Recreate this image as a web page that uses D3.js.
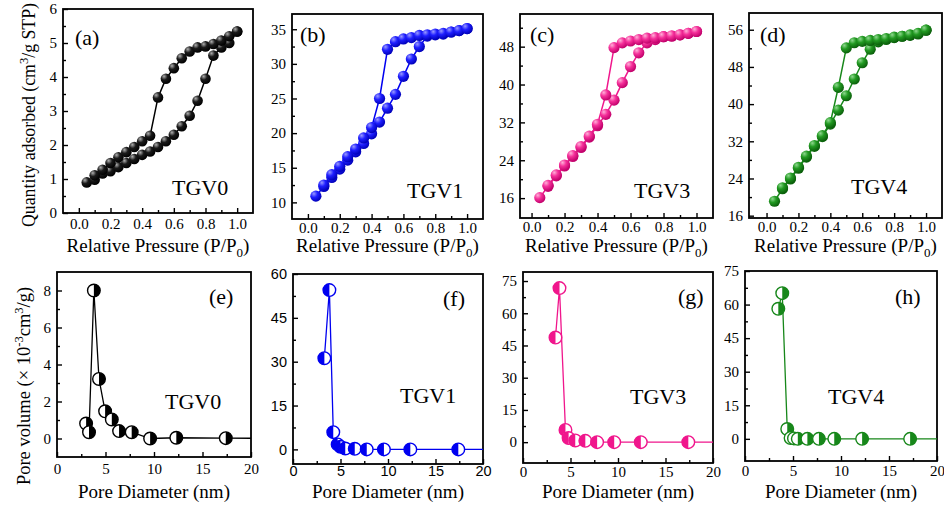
<!DOCTYPE html>
<html><head><meta charset="utf-8">
<script src="https://cdn.jsdelivr.net/npm/d3@7"></script>
<style>
body{margin:0;background:#fff}
svg{display:block}
text{font-family:"Liberation Serif","Times New Roman",serif;fill:#000}
</style>
</head><body>
<svg id="fig" width="944" height="508"></svg>
<script>
// ---- Isotherm data (relative pressure P/P0) ----
const pAds = [0.05,0.10,0.15,0.20,0.25,0.30,0.35,0.40,0.45,0.50,0.55,0.60,0.65,0.70,0.75,0.80,0.85,0.90,0.95,1.00];
const pDes = [0.10,0.15,0.20,0.25,0.30,0.35,0.40,0.45,0.50,0.55,0.60,0.65,0.70,0.75,0.80,0.85,0.90,0.95,1.00];

const tgv0Ads = [0.90,0.98,1.16,1.23,1.35,1.47,1.59,1.71,1.81,1.94,2.11,2.30,2.55,2.86,3.30,3.95,4.63,4.87,5.00,5.34];
const tgv0Des = [1.11,1.27,1.47,1.64,1.79,1.94,2.11,2.27,3.40,3.95,4.26,4.55,4.75,4.87,4.90,4.97,5.07,5.20,5.34];

const tgv1Ads = [10.9,12.3,13.6,14.8,16.1,17.3,18.5,19.9,21.6,23.6,25.6,28.2,30.7,32.5,34.0,34.2,34.3,34.6,34.8,35.1];
const tgv1Des = [12.5,14.0,15.2,16.6,17.7,19.3,20.8,25.0,32.1,33.2,33.6,33.8,34.1,34.2,34.3,34.4,34.6,34.8,35.1];

const tgv3Ads = [16.1,18.5,20.7,22.8,24.8,26.7,28.9,31.3,33.7,36.7,40.4,43.8,46.7,48.8,49.5,50.1,50.2,50.5,50.8,51.2];
const tgv3Des = [18.7,20.9,23.0,25.0,26.9,29.1,31.6,37.8,47.8,48.8,49.2,49.5,49.8,49.9,50.1,50.3,50.5,50.8,51.2];

const tgv4Ads = [19.1,21.8,23.9,26.2,28.6,30.9,33.0,35.7,38.7,41.8,45.4,48.9,51.8,53.4,53.9,54.3,54.6,54.8,55.1,55.9];
const tgv4Des = [22.0,24.1,26.4,28.8,31.1,33.2,36.0,43.6,52.1,53.2,53.5,53.7,53.9,54.1,54.4,54.6,54.9,55.2,55.9];

// ---- Pore size distribution data (diameter nm, volume) ----
const tgv0D = [3.0,3.3,3.8,4.33,4.96,5.65,6.4,7.7,9.6,12.3,17.4,25];
const tgv0V = [0.81,0.34,8.0,3.22,1.47,1.03,0.40,0.34,0.0,0.04,0.02,0.0];
const tgv1D = [3.3,3.83,4.24,4.7,5.0,5.5,6.5,7.76,9.57,12.35,17.4,25];
const tgv1V = [31.2,54.5,5.9,1.7,0.9,0.3,0.2,0,0,0,0,0];
const tgv3D = [3.42,3.84,4.47,4.8,5.5,6.56,7.8,9.6,12.4,17.4,25];
const tgv3V = [48.7,71.7,5.7,1.9,0.8,0.6,0,0,0,0,0];
const tgv4D = [3.47,3.88,4.4,4.75,5.1,5.5,6.5,7.7,9.3,12.2,17.2,25];
const tgv4V = [58.1,65.1,4.4,0.4,0.2,0,0,0,0,0,0,0];

// ---- Tick values ----
const pTicks = [0.0,0.2,0.4,0.6,0.8,1.0];
const pMinor = [0.1,0.3,0.5,0.7,0.9];
const dTicks = [0,5,10,15,20];
const dMinor = [2.5,7.5,12.5,17.5];

const svg = d3.select("#fig");
const defs = svg.append("defs");

const colors = {black:"#000000", blue:"#0000f0", pink:"#f0168c", green:"#17871a"};
const sphereStops = {
  black:["#b0b0b0","#1a1a1a","#000000"],
  blue:["#9a9aff","#1f1fff","#0000b8"],
  pink:["#ffb0d8","#f5309a","#c0006a"],
  green:["#8fd88f","#229a22","#0a5e0a"]
};
Object.entries(sphereStops).forEach(([k,s])=>{
  const g = defs.append("radialGradient").attr("id","sph-"+k)
    .attr("cx","35%").attr("cy","32%").attr("r","70%").attr("fx","32%").attr("fy","28%");
  g.append("stop").attr("offset","0%").attr("stop-color",s[0]);
  g.append("stop").attr("offset","45%").attr("stop-color",s[1]);
  g.append("stop").attr("offset","100%").attr("stop-color",s[2]);
});

function frameAxes(g, x, y, cfg){
  const [x0,y0,x1,y1] = cfg.frame;
  const tf = cfg.tickFont || '"Liberation Serif",serif';
  const fs = cfg.tickSize || 15;
  const bx = g.append("g").attr("transform",`translate(0,${y1})`)
    .call(d3.axisBottom(x).tickValues(cfg.xTicks).tickSize(-5).tickPadding(cfg.xPad||5).tickFormat(cfg.xFmt));
  const bxm = g.append("g").attr("transform",`translate(0,${y1})`)
    .call(d3.axisBottom(x).tickValues(cfg.xMinor).tickSize(-3).tickFormat(""));
  const ly = g.append("g").attr("transform",`translate(${x0},0)`)
    .call(d3.axisLeft(y).tickValues(cfg.yTicks).tickSize(-5).tickPadding(6).tickFormat(cfg.yFmt||d3.format("d")));
  const lym = g.append("g").attr("transform",`translate(${x0},0)`)
    .call(d3.axisLeft(y).tickValues(cfg.yMinor).tickSize(-3).tickFormat(""));
  [bx,bxm,ly,lym].forEach(a=>{
    a.select(".domain").remove();
    a.selectAll("line").attr("stroke","#000").attr("stroke-width",1.4);
    a.selectAll("text").style("font-family",tf).style("font-size",fs+"px").attr("fill","#000");
  });
  g.append("rect").attr("x",x0).attr("y",y0).attr("width",x1-x0).attr("height",y1-y0)
    .attr("fill","none").attr("stroke","#000").attr("stroke-width",1.8);
}

function texts(g, cfg){
  g.append("text").attr("x",cfg.tag[0]).attr("y",cfg.tag[1]).style("font-size","22px").text(cfg.tagText);
  g.append("text").attr("x",cfg.name[0]).attr("y",cfg.name[1]).style("font-size","22px").text(cfg.nameText);
}

let clipN = 0;
function clipFor(cfg){
  const [x0,y0,x1,y1] = cfg.frame;
  const id = "clip"+(clipN++);
  defs.append("clipPath").attr("id",id).append("rect")
    .attr("x",x0).attr("y",y0).attr("width",x1-x0).attr("height",y1-y0);
  return id;
}

// ---- Isotherm panels ----
function isotherm(cfg){
  const [x0,y0,x1,y1] = cfg.frame;
  const x = d3.scaleLinear().domain(cfg.xDom).range([x0,x1]);
  const y = d3.scaleLinear().domain(cfg.yDom).range([y1,y0]);
  const g = svg.append("g");
  frameAxes(g,x,y,cfg);
  const col = colors[cfg.color];
  const line = d3.line().x(d=>x(d[0])).y(d=>y(d[1]));
  const ads = pAds.map((p,i)=>[p,cfg.ads[i]]);
  const des = pDes.map((p,i)=>[p,cfg.des[i]]);
  const cg = g.append("g").attr("clip-path",`url(#${clipFor(cfg)})`);
  [ads,des].forEach(s=>cg.append("path").attr("d",line(s)).attr("fill","none")
    .attr("stroke",col).attr("stroke-width",1.5));
  [ads,des].forEach(s=>cg.selectAll(null).data(s).enter().append("circle")
    .attr("cx",d=>x(d[0])).attr("cy",d=>y(d[1])).attr("r",cfg.r||5.3)
    .attr("fill",`url(#sph-${cfg.color})`));
  texts(g,cfg);
  g.append("text").attr("x",(x0+x1)/2).attr("y",252).attr("text-anchor","middle")
    .style("font-size","19px")
    .call(t=>{
      t.append("tspan").text("Relative Pressure (P/P");
      t.append("tspan").attr("dy",5).style("font-size","13px").text("0");
      t.append("tspan").attr("dy",-5).text(")");
    });
}

// ---- Pore distribution panels ----
function halfDisk(r, side){
  // filled half of a circle, left or right
  return side==="left"
    ? `M0,${-r}A${r},${r} 0 0 0 0,${r}Z`
    : `M0,${-r}A${r},${r} 0 0 1 0,${r}Z`;
}
function pore(cfg){
  const [x0,y0,x1,y1] = cfg.frame;
  const x = d3.scaleLinear().domain([0,20]).range([x0,x1]);
  const y = d3.scaleLinear().domain(cfg.yDom).range([y1,y0]);
  const g = svg.append("g");
  frameAxes(g,x,y,cfg);
  const col = colors[cfg.color];
  const pts = cfg.d.map((d,i)=>[d,cfg.v[i]]);
  const cg = g.append("g").attr("clip-path",`url(#${clipFor(cfg)})`);
  cg.append("path").attr("d",d3.line().x(d=>x(d[0])).y(d=>y(d[1]))(pts))
    .attr("fill","none").attr("stroke",col).attr("stroke-width",1.3);
  const r = 6.3;
  const m = cg.selectAll(null).data(pts).enter().append("g")
    .attr("transform",d=>`translate(${x(d[0])},${y(d[1])})`);
  m.append("circle").attr("r",r).attr("fill","#fff").attr("stroke",col).attr("stroke-width",1.4);
  m.append("path").attr("d",halfDisk(r,cfg.side)).attr("fill",col);
  texts(g,cfg);
  g.append("text").attr("x",(x0+x1)/2).attr("y",498).attr("text-anchor","middle")
    .style("font-size","19px").text("Pore Diameter (nm)");
}

const fmtP = d3.format(".1f");

isotherm({frame:[63,9,253,213], xDom:[-0.1,1.1], yDom:[0,6], ads:tgv0Ads, des:tgv0Des, color:"black",
  xTicks:pTicks, xMinor:pMinor, xFmt:fmtP, yTicks:[0,1,2,3,4,5,6], yMinor:[0.5,1.5,2.5,3.5,4.5,5.5],
  tag:[75,45], tagText:"(a)", name:[172,195], nameText:"TGV0"});
isotherm({frame:[292,14,483,219], xDom:[-0.1,1.1], yDom:[7.6,37.2], ads:tgv1Ads, des:tgv1Des, color:"blue", r:5.6,
  xTicks:pTicks, xMinor:pMinor, xFmt:fmtP, xPad:3, yTicks:[10,15,20,25,30,35], yMinor:[12.5,17.5,22.5,27.5,32.5],
  tag:[300,42], tagText:"(b)", name:[407,198], nameText:"TGV1"});
isotherm({frame:[520,14,713,218], xDom:[-0.07,1.1], yDom:[11.8,54.9], ads:tgv3Ads, des:tgv3Des, color:"pink", r:5.6,
  xTicks:pTicks, xMinor:pMinor, xFmt:fmtP, xPad:3, yTicks:[16,24,32,40,48], yMinor:[20,28,36,44,52],
  tag:[530,42], tagText:"(c)", name:[634,198], nameText:"TGV3"});
isotherm({frame:[749,13,942,218], xDom:[-0.11,1.1], yDom:[15.5,59.6], ads:tgv4Ads, des:tgv4Des, color:"green", r:5.6,
  xTicks:pTicks, xMinor:pMinor, xFmt:fmtP, xPad:3, yTicks:[16,24,32,40,48,56], yMinor:[20,28,36,44,52],
  tag:[760,42], tagText:"(d)", name:[851,194], nameText:"TGV4"});

pore({frame:[57,272,251,457], yDom:[-1,9], d:tgv0D, v:tgv0V, color:"black", side:"right",
  xTicks:dTicks, xMinor:dMinor, xFmt:d3.format("d"), xPad:6, yTicks:[0,2,4,6,8], yMinor:[1,3,5,7],
  tag:[209,304], tagText:"(e)", name:[165,409], nameText:"TGV0"});
pore({frame:[293,274,483,464], yDom:[-5,60], d:tgv1D, v:tgv1V, color:"blue", side:"left",
  tickFont:'"Liberation Sans",Arial,sans-serif', tickSize:14.5, xPad:2,
  xTicks:dTicks, xMinor:dMinor, xFmt:d3.format("d"), yTicks:[0,15,30,45,60], yMinor:[7.5,22.5,37.5,52.5],
  tag:[443,306], tagText:"(f)", name:[400,403], nameText:"TGV1"});
pore({frame:[523,272,713,463], yDom:[-9.7,79.2], d:tgv3D, v:tgv3V, color:"pink", side:"left", xPad:3,
  xTicks:dTicks, xMinor:dMinor, xFmt:d3.format("d"), yTicks:[0,15,30,45,60,75], yMinor:[7.5,22.5,37.5,52.5,67.5],
  tag:[678,304], tagText:"(g)", name:[630,404], nameText:"TGV3"});
pore({frame:[745,271,937,461], yDom:[-9.9,75], d:tgv4D, v:tgv4V, color:"green", side:"right", xPad:4,
  xTicks:dTicks, xMinor:dMinor, xFmt:d3.format("d"), yTicks:[0,15,30,45,60,75], yMinor:[7.5,22.5,37.5,52.5,67.5],
  tag:[895,304], tagText:"(h)", name:[828,404], nameText:"TGV4"});

// ---- Y axis titles ----
svg.append("text").attr("transform","translate(35,227) rotate(-90)").style("font-size","17.8px")
  .call(t=>{
    t.append("tspan").text("Quantity adsorbed (cm");
    t.append("tspan").attr("dy",-7).style("font-size","12.5px").text("3");
    t.append("tspan").attr("dy",7).text("/g STP)");
  });
svg.append("text").attr("transform","translate(30,386) rotate(-90)").attr("text-anchor","middle")
  .style("font-size","18.5px")
  .call(t=>{
    t.append("tspan").text("Pore volume (\u00d7 10");
    t.append("tspan").attr("dy",-7).style("font-size","12.5px").text("-3");
    t.append("tspan").attr("dy",7).text("cm");
    t.append("tspan").attr("dy",-7).style("font-size","12.5px").text("3");
    t.append("tspan").attr("dy",7).text("/g)");
  });
</script>
</body></html>
